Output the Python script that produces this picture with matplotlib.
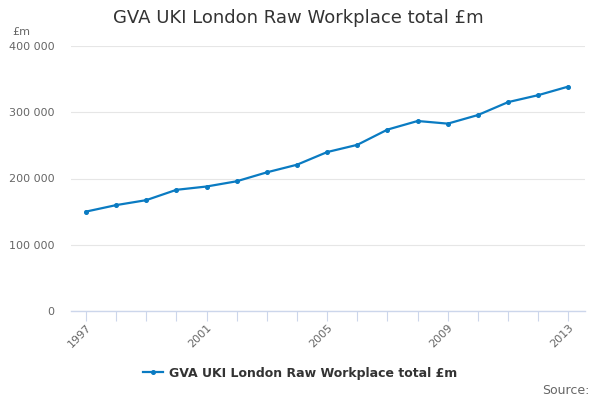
import matplotlib
matplotlib.use("Agg")
import matplotlib.pyplot as plt
from matplotlib.ticker import FuncFormatter

# data
years = list(range(1997, 2014))
gva = [150000, 159800, 167300, 182900, 187900, 195800, 209300, 220800, 239900,
       250800, 273800, 286800, 282800, 295800, 315300, 325800, 338800]
label_years = [1997, 2001, 2005, 2009, 2013]
series_name = "GVA UKI London Raw Workplace total £m"

line_col = "#0a7bc2"
axis_col = "#ccd6eb"

fig = plt.figure(figsize=(6, 4), dpi=100)
ax = fig.add_axes([0.118, 0.2225, 0.857, 0.6625])

ax.plot(years, gva, color=line_col, lw=1.6, marker="o", ms=2.6, label=series_name)

ax.set_xlim(1996.5, 2013.55)
ax.set_ylim(0, 400000)
ax.set_yticks([0, 100000, 200000, 300000, 400000])
ax.yaxis.set_major_formatter(FuncFormatter(lambda v, p: f"{int(v):,}".replace(",", " ")))
ax.set_xticks(years)
ax.set_xticklabels([str(y) if y in label_years else "" for y in years],
                   rotation=45, ha="right", rotation_mode="anchor")

ax.grid(axis="y", color="#e6e6e6", lw=0.8)
ax.set_axisbelow(True)
for s in ["top", "right", "left"]:
    ax.spines[s].set_visible(False)
ax.spines["bottom"].set_color(axis_col)
ax.spines["bottom"].set_linewidth(1)
ax.tick_params(axis="x", length=7, color=axis_col, labelsize=8, labelcolor="#666666", pad=1)
ax.tick_params(axis="y", length=0, labelsize=8, labelcolor="#666666", pad=12)

fig.text(0.497, 0.955, series_name, ha="center", va="center", fontsize=13, color="#333333")
fig.text(0.02, 0.92, "£m", ha="left", va="center", fontsize=8, color="#666666")
fig.text(0.983, 0.025, "Source:", ha="right", va="center", fontsize=9, color="#666666")

leg = fig.legend(loc="center", bbox_to_anchor=(0.5, 0.067), frameon=False,
                 prop={"size": 9, "weight": "bold"}, handlelength=1.6, handletextpad=0.5)
for t in leg.get_texts():
    t.set_color("#333333")

fig.savefig("out.png", dpi=100)
